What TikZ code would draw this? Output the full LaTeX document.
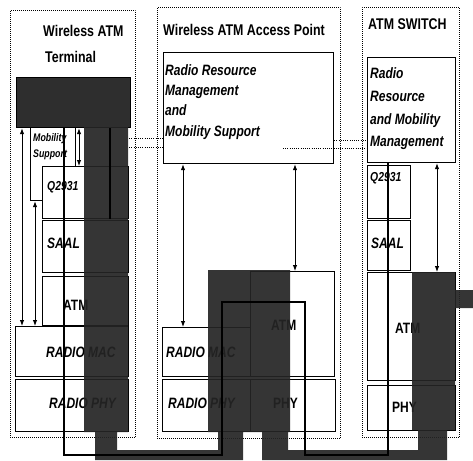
\documentclass[tikz,border=0pt]{standalone}
\usepackage{fontspec}
\setmainfont{Liberation Sans}[FakeStretch=0.8]
\usetikzlibrary{arrows.meta}

\newcommand\ttlfont{\fontsize{15.5}{18}\selectfont\bfseries}
\newcommand\boxfont{\fontsize{15}{18}\selectfont\bfseries\itshape}
\newcommand\upfont{\fontsize{15}{18}\selectfont\bfseries}
\newcommand\qfont{\fontsize{13}{15}\selectfont\bfseries\itshape}
\newcommand\mobfont{\fontsize{11}{13}\selectfont\bfseries\itshape}

\tikzset{
  panel/.style={draw, line width=0.9pt, dash pattern=on 0.9pt off 1.1pt, anchor=north west, inner sep=0pt},
  box/.style={draw, fill=white, line width=1.2pt, anchor=north west, inner sep=0pt},
  ttl/.style={font=\ttlfont, anchor=base west, inner sep=0pt},
  lbl/.style={font=\boxfont, anchor=base west, inner sep=0pt},
  uplbl/.style={font=\upfont, anchor=base west, inner sep=0pt},
  halftone/.style={fill=black!86, fill opacity=0.92},
  ctrl/.style={line width=2.4pt},
  sigarrow/.style={<->, >={Latex[length=6pt,width=4.5pt]}, line width=0.9pt},
  xlink/.style={line width=0.9pt, dash pattern=on 1pt off 1.2pt},
}

\begin{document}
\begin{tikzpicture}[x=1pt, y=-1pt]
  \useasboundingbox (0,0) rectangle (473,460);

  % Panels
  \node[panel, minimum width=125pt, minimum height=427pt] (tPanel) at (10,10) {};
  \node[panel, minimum width=183pt, minimum height=431pt] (aPanel) at (157,7) {};
  \node[panel, minimum width=97pt, minimum height=430pt] (sPanel) at (362,7) {};

  % Titles
  \node[ttl] (tTitleA) at (43,37) {Wireless ATM};
  \node[ttl] (tTitleB) at (45,62) {Terminal};
  \node[ttl] (aTitle) at (163,36) {Wireless ATM Access Point};
  \node[ttl] (sTitle) at (368,30) {ATM SWITCH};

  % Terminal stack
  \node[box, fill=black!82, minimum width=114pt, minimum height=50pt] (tSig) at (16,77) {};
  \node[box, minimum width=45pt, minimum height=73pt] (tMob) at (30,127) {};
  \node[box, minimum width=86pt, minimum height=52pt] (tQ) at (42,166) {};
  \node[box, minimum width=86pt, minimum height=52pt] (tSaal) at (42,220) {};
  \node[box, minimum width=86pt, minimum height=49pt] (tAtm) at (42,276) {};
  \node[box, minimum width=113pt, minimum height=50pt] (tMac) at (15,326) {};
  \node[box, minimum width=113pt, minimum height=52pt] (tPhy) at (15,379) {};
  \node[lbl, font=\mobfont] (tMobA) at (33,141) {Mobility};
  \node[lbl, font=\mobfont] (tMobB) at (33,157) {Support};
  \node[lbl, font=\qfont] (tQL) at (47,190) {Q2931};
  \node[lbl] (tSaalL) at (47,248) {SAAL};
  \node[uplbl] (tAtmL) at (63,310) {ATM};
  \node[lbl] (tMacL) at (46,357) {RADIO MAC};
  \node[lbl] (tPhyL) at (49,408) {RADIO PHY};

  % Access point stack
  \node[box, minimum width=170pt, minimum height=111pt] (aRrm) at (163,52) {};
  \node[lbl] (aRrmA) at (165,75) {Radio Resource};
  \node[lbl] (aRrmB) at (165,95.5) {Management};
  \node[lbl] (aRrmC) at (165,115) {and};
  \node[lbl] (aRrmD) at (165,136) {Mobility Support};
  \node[box, minimum width=84pt, minimum height=105pt] (aAtm) at (250,271) {};
  \node[box, minimum width=88pt, minimum height=49pt] (aMac) at (162,327) {};
  \node[box, minimum width=88pt, minimum height=52pt] (aPhyL) at (162,379) {};
  \node[box, minimum width=85pt, minimum height=52pt] (aPhy) at (250,379) {};
  \node[uplbl] (aAtmL) at (271,330) {ATM};
  \node[lbl] (aMacL) at (166,357) {RADIO MAC};
  \node[lbl] (aPhyLL) at (168,408) {RADIO PHY};
  \node[uplbl] (aPhyT) at (273,408) {PHY};

  % Switch stack
  \node[box, minimum width=88pt, minimum height=105pt] (sRrm) at (367,57) {};
  \node[lbl] (sRrmA) at (370,78) {Radio};
  \node[lbl] (sRrmB) at (370,101) {Resource};
  \node[lbl] (sRrmC) at (370,124) {and Mobility};
  \node[lbl] (sRrmD) at (370,146) {Management};
  \node[box, minimum width=43pt, minimum height=53pt] (sQ) at (367,165) {};
  \node[box, minimum width=43pt, minimum height=50pt] (sSaal) at (367,220) {};
  \node[box, minimum width=88pt, minimum height=108pt] (sAtm) at (367,272) {};
  \node[box, minimum width=88pt, minimum height=45pt] (sPhy) at (367,385) {};
  \node[lbl, font=\qfont] (sQL) at (370,181) {Q2931};
  \node[lbl] (sSaalL) at (371,248) {SAAL};
  \node[uplbl] (sAtmL) at (395,333) {ATM};
  \node[uplbl] (sPhyL) at (392,412) {PHY};

  % Dotted links
  \draw[xlink] (tQ.east |- 0,138) -- (aRrm.west |- 0,138);
  \draw[xlink] (tQ.east |- 0,147) -- (aRrm.west |- 0,147);
  \draw[xlink] (aRrm.east |- 0,140) -- (sRrm.west |- 0,140);
  \draw[xlink] (283,148) -- (sRrm.west |- 0,148);

  % User data path
  \fill[halftone] (84,127) -- (128,127) -- (128,432) -- (117,432) -- (117,450)
    -- (218,450) -- (218,432) -- (208,432) -- (208,270) -- (290,270) -- (290,432)
    -- (288,432) -- (288,450) -- (418,450) -- (418,430) -- (412,430) -- (412,272)
    -- (455,272) -- (455,290) -- (473,290) -- (473,308) -- (455,308) -- (455,430)
    -- (447,430) -- (447,460) -- (262,460) -- (262,432) -- (243,432) -- (243,460)
    -- (95,460) -- (95,432) -- (84,432) -- cycle;

  % Control path
  \draw[ctrl] (tSig.south -| 64,0) -- (64,455) -- (222,455) -- (222,302)
    -- (305,302) -- (305,455) -- (388,455) -- (sRrm.south -| 388,0);
  \draw[ctrl] (tSig.south -| 110,0) -- (tQ.south -| 110,0);

  % Signalling arrows
  \draw[sigarrow] (tSig.south -| 22,0) -- (tMac.north -| 22,0);
  \draw[sigarrow] (tMob.south -| 35,0) -- (tMac.north -| 35,0);
  \draw[sigarrow] (tSig.south -| 79,0) -- (tQ.north -| 79,0);
  \draw[sigarrow] (aRrm.south -| 183,0) -- (aMac.north -| 183,0);
  \draw[sigarrow] (aRrm.south -| 295,0) -- (aAtm.north -| 295,0);
  \draw[sigarrow] (sRrm.south -| 437,0) -- (sAtm.north -| 437,0);
\end{tikzpicture}
\end{document}
